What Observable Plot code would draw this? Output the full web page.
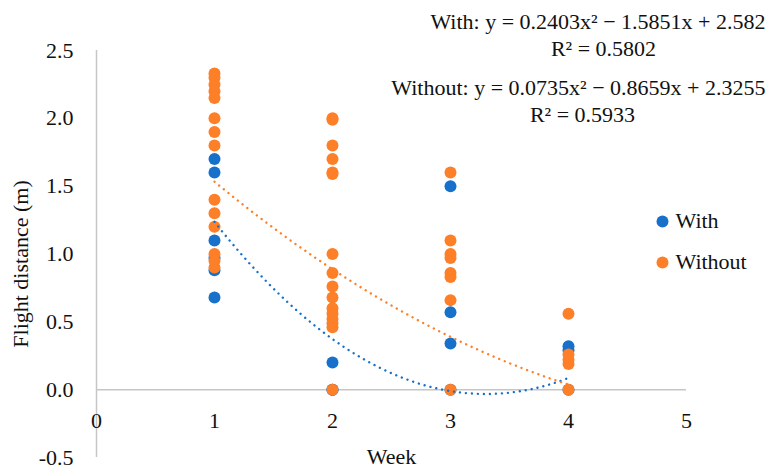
<!DOCTYPE html>
<html><head><meta charset="utf-8">
<script src="https://cdn.jsdelivr.net/npm/d3@7"></script>
<script src="https://cdn.jsdelivr.net/npm/@observablehq/plot@0.6"></script>
<style>
body{margin:0;background:#fff}
#chart svg, #chart svg text{font-family:"Liberation Serif", serif !important;}
</style>
</head><body><div id="chart"></div>
<script>
// "With" series (blue)
const withWeek = [1,1,1,1,1,1, 2,2,2, 3,3,3,3, 4,4,4];
const withDist = [1.70,1.60,1.10,0.97,0.88,0.68, 0.20,0,0, 1.50,0.57,0.34,0, 0.32,0.29,0];
// "Without" series (orange)
const withoutWeek = [1,1,1,1,1,1,1,1,1,1,1,1,1,1, 2,2,2,2,2,2,2,2,2,2,2,2,2,2,2,2, 3,3,3,3,3,3,3,3, 4,4,4,4,4];
const withoutDist = [2.33,2.30,2.25,2.20,2.15,2.00,1.90,1.80,1.40,1.30,1.20,1.00,0.95,0.90,
  2.00,1.99,1.80,1.70,1.60,1.59,1.00,0.86,0.76,0.68,0.60,0.56,0.52,0.49,0.46,0,
  1.60,1.10,1.00,0.97,0.86,0.83,0.66,0,
  0.56,0.26,0.22,0.19,0];
// trendline coefficients (a, b, c) and R² as shown
const withCoef = [0.2403, -1.5851, 2.582];
const withoutCoef = [0.0735, -0.8659, 2.3255];
const withR2 = "0.5802";
const withoutR2 = "0.5933";
const seriesNames = ["With", "Without"];
const xTicks = [0,1,2,3,4,5];
const yTicks = [-0.5,0,0.5,1,1.5,2,2.5];

const blue = "#1771cb", orange = "#fd7f27";
const withData = withWeek.map((w,i) => ({week:w, dist:withDist[i]}));
const withoutData = withoutWeek.map((w,i) => ({week:w, dist:withoutDist[i]}));
const curve = c => d3.range(1, 4.0001, 0.02).map(x => ({x, y: c[0]*x*x + c[1]*x + c[2]}));
const eq = (name, c) => `${name}: y = ${c[0]}x² − ${Math.abs(c[1])}x + ${c[2]}`;
const txt = {text: d => d, fill: "#111", lineAnchor: "middle"};

const plot = Plot.plot({
  width: 767, height: 470,
  marginLeft: 96, marginRight: 81, marginTop: 50, marginBottom: 13,
  x: {domain: [0,5], axis: null},
  y: {domain: [-0.5,2.5]},
  style: {fontFamily: "Liberation Serif, serif", fontSize: "22px", background: "#fff", color: "#111"},
  marks: [
    Plot.ruleX([0], {stroke: "#c6c6c6", strokeWidth: 1.5}),
    Plot.ruleY([0], {stroke: "#c6c6c6", strokeWidth: 1.5}),
    Plot.axisY({ticks: yTicks, tickSize: 0, tickPadding: 23, tickFormat: d => d.toFixed(1), label: null, fontSize: 22, fill: "#111"}),
    Plot.text(xTicks, {x: d => d, frameAnchor: "bottom", dy: -37, text: d => String(d), fill: "#111", lineAnchor: "middle"}),
    Plot.text(["Week"], {...txt, frameAnchor: "bottom", dy: -1, textAnchor: "middle"}),
    Plot.text(["Flight distance (m)"], {...txt, frameAnchor: "left", rotate: -90, dx: -76, dy: 10, textAnchor: "middle"}),
    Plot.dot(withData, {x: "week", y: "dist", r: 6, fill: blue}),
    Plot.dot(withoutData, {x: "week", y: "dist", r: 6, fill: orange}),
    Plot.line(curve(withCoef), {x: "x", y: "y", stroke: blue, strokeWidth: 2.4, strokeDasharray: "0.01 6", strokeLinecap: "round"}),
    Plot.line(curve(withoutCoef), {x: "x", y: "y", stroke: orange, strokeWidth: 2.4, strokeDasharray: "0.01 6", strokeLinecap: "round"}),
    // legend
    Plot.dot([seriesNames[0]], {frameAnchor: "top-right", dx: -24, dy: 171, r: 6, fill: blue}),
    Plot.dot([seriesNames[1]], {frameAnchor: "top-right", dx: -24, dy: 212, r: 6, fill: orange}),
    Plot.text([seriesNames[0]], {...txt, frameAnchor: "top-right", dx: -11, dy: 170, textAnchor: "start"}),
    Plot.text([seriesNames[1]], {...txt, frameAnchor: "top-right", dx: -11, dy: 211, textAnchor: "start"}),
    // trendline labels
    Plot.text([eq("With", withCoef)], {...txt, frameAnchor: "top-right", textAnchor: "end", dx: 79, dy: -29}),
    Plot.text([`R² = ${withR2}`], {...txt, frameAnchor: "top-right", textAnchor: "middle", dx: -83, dy: -2}),
    Plot.text([eq("Without", withoutCoef)], {...txt, frameAnchor: "top-right", textAnchor: "end", dx: 79, dy: 37}),
    Plot.text([`R² = ${withoutR2}`], {...txt, frameAnchor: "top-right", textAnchor: "middle", dx: -104, dy: 64})
  ]
});
document.getElementById("chart").append(plot);
</script>
</body></html>
